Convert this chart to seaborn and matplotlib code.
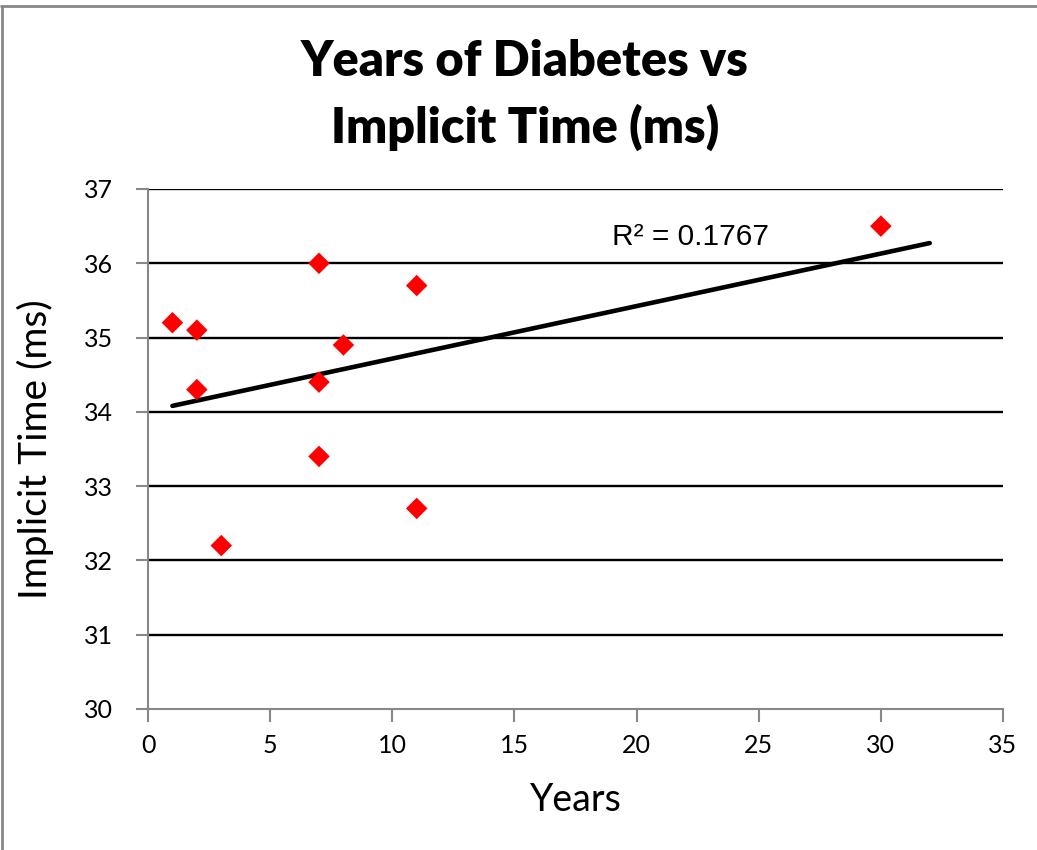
import numpy as np
import pandas as pd
import matplotlib
matplotlib.use("Agg")
import matplotlib.pyplot as plt
import seaborn as sns
from matplotlib.lines import Line2D

# Years with diabetes and measured implicit time (ms)
years = [1, 2, 2, 3, 7, 7, 7, 8, 11, 11, 30]
implicit_time = [35.2, 35.1, 34.3, 32.2, 36.0, 34.4, 33.4, 34.9, 35.7, 32.7, 36.5]

title_lines = ["Years of Diabetes vs", "Implicit Time (ms)"]
x_label = "Years"
y_label = "Implicit Time (ms)"
x_ticks = [0, 5, 10, 15, 20, 25, 30, 35]
y_ticks = [30, 31, 32, 33, 34, 35, 36, 37]
trend_end = 32  # linear trendline extended forward to this x

df = pd.DataFrame({"Years": years, "Implicit": implicit_time})

sns.set_theme(style="white")
plt.rcParams["font.family"] = ["Lato", "DejaVu Sans"]
plt.rcParams["text.color"] = "black"
plt.rcParams["axes.labelcolor"] = "black"
plt.rcParams["xtick.color"] = "black"
plt.rcParams["ytick.color"] = "black"

fig = plt.figure(figsize=(10.37, 8.5), dpi=100)
ax = fig.add_axes([148 / 1037, 1 - 709 / 850, (1003 - 148) / 1037, (709 - 189) / 850])

# horizontal major gridlines
for yv in y_ticks[1:]:
    ax.axhline(yv, color="black", lw=1.7, zorder=1)

sns.scatterplot(data=df, x="Years", y="Implicit", marker="D", color="#ff0000",
                s=120, edgecolor="none", ax=ax, zorder=3, legend=False)

# least-squares trendline and its R²
slope, intercept = np.polyfit(years, implicit_time, 1)
pred = slope * np.array(years) + intercept
ss_res = np.sum((np.array(implicit_time) - pred) ** 2)
ss_tot = np.sum((np.array(implicit_time) - np.mean(implicit_time)) ** 2)
r2 = 1 - ss_res / ss_tot
xs = np.array([min(years), trend_end])
sns.lineplot(x=xs, y=slope * xs + intercept, color="black", lw=3.3, ax=ax,
             zorder=2, solid_capstyle="round")
ax.text(19, 36.35, f"R² = {r2:.4f}", fontsize=21.5,
        family=["Liberation Sans", "DejaVu Sans"],
        color="black", ha="left", va="center")

ax.set_xlim(0, 35)
ax.set_ylim(30, 37)
ax.set_xticks(x_ticks)
ax.set_yticks(y_ticks)
ax.tick_params(axis="both", direction="out", length=9, width=1.5, color="#888888",
               labelcolor="black", labelsize=18, bottom=True, left=True)
ax.tick_params(axis="x", pad=9)
ax.tick_params(axis="y", pad=16)
for side in ["top", "right"]:
    ax.spines[side].set_visible(False)
for side in ["left", "bottom"]:
    ax.spines[side].set_color("#888888")
    ax.spines[side].set_linewidth(1.5)
ax.set_xlabel(x_label, fontsize=27, labelpad=18, color="black")
ax.set_ylabel(y_label, fontsize=28, labelpad=22, color="black")

fig.text(525 / 1037, 1 - 62 / 850, title_lines[0], ha="center", va="center",
         fontsize=35, fontweight="heavy", color="black")
fig.text(525 / 1037, 1 - 127 / 850, title_lines[1], ha="center", va="center",
         fontsize=35, fontweight="heavy", color="black")

# chart area border (left and top edges)
fig.add_artist(Line2D([2 / 1037, 2 / 1037], [0, 1 - 6 / 850], transform=fig.transFigure,
                      color="#888888", lw=2))
fig.add_artist(Line2D([1 / 1037, 1], [1 - 6 / 850, 1 - 6 / 850], transform=fig.transFigure,
                      color="#888888", lw=2))

fig.savefig("out.png", dpi=100)
